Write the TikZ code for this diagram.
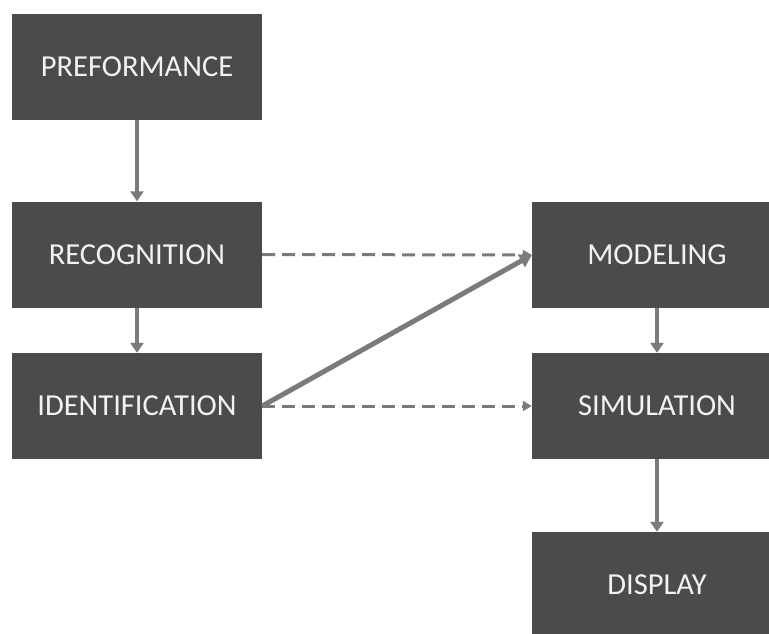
\documentclass[tikz,border=0pt]{standalone}
\usepackage{fontspec}
\setmainfont{Carlito}
\usetikzlibrary{arrows.meta}

\definecolor{boxgray}{HTML}{4B4B4B}
\definecolor{arrowgray}{HTML}{7B7B7B}
\definecolor{textwhite}{HTML}{F2F2F2}

\begin{document}
\begin{tikzpicture}[x=1pt, y=-1pt,
  stage/.style={fill=boxgray, draw=none, minimum width=250pt, minimum height=106pt,
    inner sep=0pt, text=textwhite, font=\fontsize{30.5}{36}\selectfont},
  flow/.style={draw=arrowgray, line width=4pt, -{Triangle[length=10pt, width=13pt]}},
  link/.style={draw=arrowgray, line width=3pt, dash pattern=on 13pt off 7pt,
    -{Triangle[length=9pt, width=10pt]}},
  jump/.style={draw=arrowgray, line width=5pt, -{Triangle[length=12pt, width=14pt]}}]
  \useasboundingbox (0,0) rectangle (769,633);
  \clip (0,0) rectangle (769,633);
  % left column
  \node[stage] (perf)  at (137,66.5) {PREFORMANCE};
  \node[stage] (recog) at (137,254.5) {RECOGNITION};
  \node[stage] (ident) at (137,406) {IDENTIFICATION};
  % right column
  \node[stage] (model) at (657,255) {MODELING};
  \node[stage] (simul) at (657,406) {SIMULATION};
  \node[stage] (disp)  at (657,585) {DISPLAY};
  % vertical flow
  \draw[flow] (perf) -- (recog);
  \draw[flow] (recog) -- (ident);
  \draw[flow] (model) -- (simul);
  \draw[flow] (simul) -- (disp);
  % cross links
  \draw[link] (recog.east) -- (model.west);
  \draw[link] (ident.east) -- (simul.west);
  \draw[jump] (ident.east) -- (model.west);
\end{tikzpicture}
\end{document}
